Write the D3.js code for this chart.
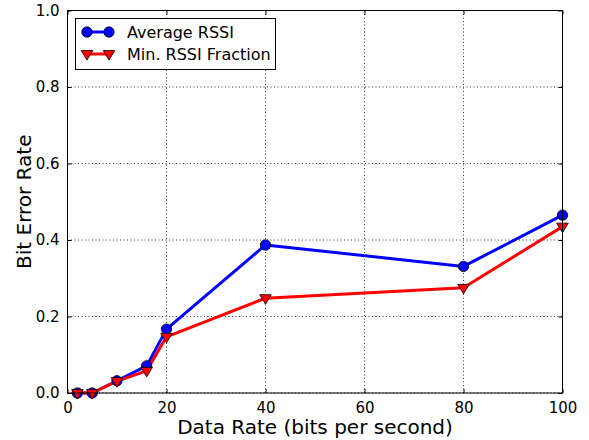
<!DOCTYPE html>
<html>
<head>
<meta charset="utf-8">
<script src="https://cdn.jsdelivr.net/npm/d3@7/dist/d3.min.js"></script>
<style>
  html, body { margin: 0; padding: 0; background: #fff; }
  svg { display: block; font-family: "DejaVu Sans", sans-serif; }
</style>
</head>
<body>
<svg id="chart" width="589" height="440"></svg>
<script>
// Data rates (bits per second)
const dataRates = [2, 5, 10, 16, 20, 40, 80, 100];
// Bit error rate per method
const avgRssi = [0.0, 0.0, 0.032, 0.071, 0.167, 0.387, 0.331, 0.465];
const minRssiFraction = [0.0, 0.0, 0.031, 0.058, 0.147, 0.248, 0.275, 0.435];
const seriesNames = ["Average RSSI", "Min. RSSI Fraction"];
const xTicks = [0, 20, 40, 60, 80, 100];
const yTicks = [0.0, 0.2, 0.4, 0.6, 0.8, 1.0];

const svg = d3.select("#chart");
const m = { left: 67.5, right: 562.5, top: 10.5, bottom: 393 };

const x = d3.scaleLinear().domain([0, 100]).range([m.left, m.right]);
const y = d3.scaleLinear().domain([0, 1]).range([m.bottom, m.top]);

// dotted grid
const grid = svg.append("g");
grid.selectAll("line.gx").data(xTicks).join("line")
  .attr("x1", d => x(d)).attr("x2", d => x(d))
  .attr("y1", m.top).attr("y2", m.bottom)
  .attr("stroke", "#000").attr("stroke-width", 0.8).attr("stroke-dasharray", "1,2.5");
grid.selectAll("line.gy").data(yTicks).join("line")
  .attr("y1", d => y(d)).attr("y2", d => y(d))
  .attr("x1", m.left).attr("x2", m.right)
  .attr("stroke", "#000").attr("stroke-width", 0.8).attr("stroke-dasharray", "1,2.5");

// axes with inward ticks on all sides
const fmtY = d3.format(".1f");
function styleAxis(g) {
  g.select(".domain").remove();
  g.selectAll(".tick line").attr("stroke", "#000").attr("stroke-width", 1);
  g.selectAll(".tick text").attr("fill", "#000").attr("font-size", 15)
    .attr("font-family", "DejaVu Sans, sans-serif");
}
svg.append("g").attr("transform", `translate(0,${m.bottom})`)
  .call(d3.axisBottom(x).tickValues(xTicks).tickSizeInner(-4).tickSizeOuter(0).tickPadding(9))
  .call(styleAxis);
svg.append("g").attr("transform", `translate(0,${m.top})`)
  .call(d3.axisTop(x).tickValues(xTicks).tickSizeInner(-4).tickSizeOuter(0).tickFormat(""))
  .call(styleAxis);
svg.append("g").attr("transform", `translate(${m.left},0)`)
  .call(d3.axisLeft(y).tickValues(yTicks).tickSizeInner(-4).tickSizeOuter(0).tickPadding(8).tickFormat(fmtY))
  .call(styleAxis);
svg.append("g").attr("transform", `translate(${m.right},0)`)
  .call(d3.axisRight(y).tickValues(yTicks).tickSizeInner(-4).tickSizeOuter(0).tickFormat(""))
  .call(styleAxis);

// series lines
const line = d3.line().x(d => x(d[0])).y(d => y(d[1]));
const series = [
  { name: seriesNames[0], values: avgRssi, color: "#0000ff", marker: "circle" },
  { name: seriesNames[1], values: minRssiFraction, color: "#ff0000", marker: "tri" }
];
const circleSym = d3.symbol().type(d3.symbolCircle).size(85);
const triPath = (cx, cy, r) => `M${cx - r},${cy - r * 0.6}L${cx + r},${cy - r * 0.6}L${cx},${cy + r * 1.05}Z`;

const plot = svg.append("g");
series.forEach(s => {
  const pts = dataRates.map((d, i) => [d, s.values[i]]);
  plot.append("path").attr("d", line(pts))
    .attr("fill", "none").attr("stroke", s.color).attr("stroke-width", 3)
    .attr("stroke-linejoin", "round");
});
series.forEach(s => {
  const pts = dataRates.map((d, i) => [d, s.values[i]]);
  if (s.marker === "circle") {
    plot.selectAll(null).data(pts).join("path")
      .attr("d", circleSym).attr("transform", d => `translate(${x(d[0])},${y(d[1])})`)
      .attr("fill", s.color).attr("stroke", "#000").attr("stroke-width", 0.8);
  } else {
    plot.selectAll(null).data(pts).join("path")
      .attr("d", d => triPath(x(d[0]), y(d[1]), 5.8))
      .attr("fill", s.color).attr("stroke", "#000").attr("stroke-width", 0.8);
  }
});

// frame
svg.append("rect").attr("x", m.left).attr("y", m.top)
  .attr("width", m.right - m.left).attr("height", m.bottom - m.top)
  .attr("fill", "none").attr("stroke", "#000").attr("stroke-width", 1);

// legend
const lg = svg.append("g");
lg.append("rect").attr("x", 75.5).attr("y", 18.5).attr("width", 200).attr("height", 51)
  .attr("fill", "#fff").attr("stroke", "#000").attr("stroke-width", 1);
series.forEach((s, i) => {
  const cy = 32 + i * 22;
  lg.append("line").attr("x1", 87).attr("x2", 109).attr("y1", cy).attr("y2", cy)
    .attr("stroke", s.color).attr("stroke-width", 3);
  [87, 109].forEach(cx => {
    if (s.marker === "circle") {
      lg.append("path").attr("d", circleSym).attr("transform", `translate(${cx},${cy})`)
        .attr("fill", s.color).attr("stroke", "#000").attr("stroke-width", 0.8);
    } else {
      lg.append("path").attr("d", triPath(cx, cy, 5.8))
        .attr("fill", s.color).attr("stroke", "#000").attr("stroke-width", 0.8);
    }
  });
  lg.append("text").attr("x", 127).attr("y", cy + 5.5).attr("font-size", 16)
    .attr("fill", "#000").text(s.name);
});

// axis titles
svg.append("text").attr("x", (m.left + m.right) / 2).attr("y", 434)
  .attr("text-anchor", "middle").attr("font-size", 20).attr("fill", "#000")
  .text("Data Rate (bits per second)");
svg.append("text").attr("transform", `translate(31,${(m.top + m.bottom) / 2}) rotate(-90)`)
  .attr("text-anchor", "middle").attr("font-size", 20).attr("fill", "#000")
  .text("Bit Error Rate");
</script>
</body>
</html>
